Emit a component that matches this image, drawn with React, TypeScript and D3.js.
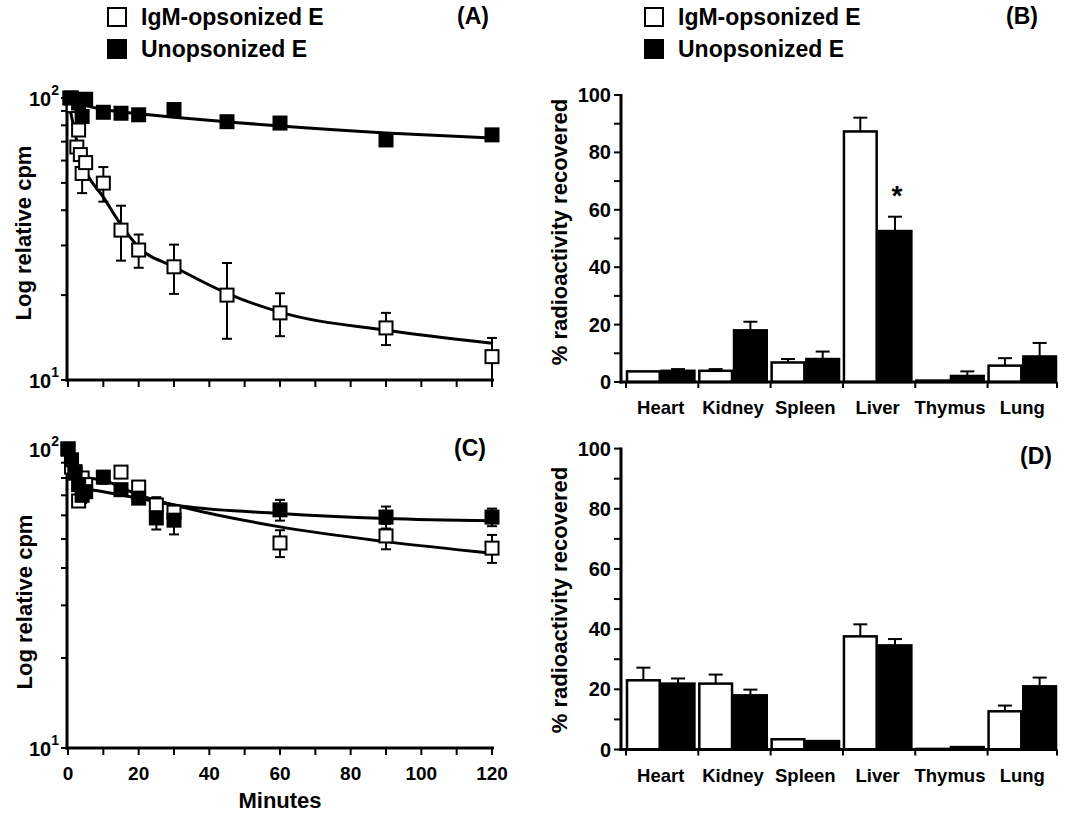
import React, { useEffect, useRef } from 'react';
import * as d3 from 'd3';

const FONT = '"Liberation Sans", Arial, Helvetica, sans-serif';

// shared ticks / categories
const minuteTicks = [0, 10, 20, 30, 40, 50, 60, 70, 80, 90, 100, 110, 120];
const minuteLabels = [0, 20, 40, 60, 80, 100, 120];
const logTicks = [10, 20, 30, 40, 50, 60, 70, 80, 90, 100];
const organs = ["Heart", "Kidney", "Spleen", "Liver", "Thymus", "Lung"];
const pctTicks = [0, 10, 20, 30, 40, 50, 60, 70, 80, 90, 100];
const pctLabels = [0, 20, 40, 60, 80, 100];
const legendLabels = ["IgM-opsonized E", "Unopsonized E"];

// panel A: [minutes, relative cpm, error]
const aIgmPoints = [
    [0.5, 100, 0], [1.5, 94, 0], [3, 77, 0], [2.5, 67, 0], [3.5, 63, 0], [4, 54, 8], [5, 59, 0],
    [10, 49.9, 7], [15, 34, 7.5], [20, 28.9, 3.9], [30, 25.2, 5], [45, 20, 6],
    [60, 17.3, 3], [90, 15.3, 2], [120, 12.1, 2]
];
const aUnopPoints = [
    [1, 100, 0], [3, 96, 0], [4, 86, 3], [5, 99, 0], [10, 89, 0], [15, 88.3, 0], [20, 87.2, 0],
    [30, 91, 0], [45, 82.4, 3], [60, 81.5, 0], [90, 71, 0], [120, 74, 0]
];
const aIgmFit = [
    [0, 100], [1, 86], [2, 75], [3, 66], [4, 59], [5, 55], [10, 44.5], [15, 35.5],
    [20, 29.6], [30, 25.2], [45, 20.3], [60, 17.4], [90, 15], [120, 13.5]
];
const aUnopFit = [
    [0, 98], [5, 94], [10, 91], [20, 88], [30, 85.5], [45, 82.4], [60, 79.5], [90, 75.1], [120, 72.1]
];

// panel C
const cIgmPoints = [
    [0, 100, 0], [1, 87, 0], [2, 83, 0], [3, 67, 3], [4, 80, 0], [5, 76, 0], [15, 83.7, 0],
    [20, 74.6, 0], [25, 65, 4], [30, 61.5, 0], [60, 48.5, 5], [90, 51.2, 5], [120, 46.6, 5]
];
const cUnopPoints = [
    [0, 100, 0], [1, 92, 0], [2, 84, 0], [3, 76, 0], [4, 70, 4], [5, 72, 0], [10, 80.5, 4],
    [15, 73.1, 0], [20, 68.5, 0], [25, 58.8, 5], [30, 57.8, 6], [60, 62.6, 5], [90, 59.2, 5], [120, 59.2, 4]
];
const cIgmFit = [
    [0, 100], [1, 92], [2, 87], [3, 84], [5, 80.5], [10, 78.6], [20, 70.2], [30, 65],
    [60, 54.9], [90, 49], [120, 44.8]
];
const cUnopFit = [
    [0, 100], [1, 88], [2, 81], [3, 77], [5, 74], [10, 72], [20, 68.4], [30, 65],
    [60, 60.9], [90, 58.6], [120, 57.6]
];

// panel B (% radioactivity)
const bIgm = [3.7, 3.9, 6.8, 87.3, 0.5, 5.7];
const bIgmErr = [0, 0.6, 1.2, 4.8, 0, 2.6];
const bUnop = [3.9, 18.0, 8.0, 52.6, 2.1, 8.9];
const bUnopErr = [0.6, 3.0, 2.6, 5.0, 1.6, 4.7];

// panel D
const dIgm = [23.0, 21.9, 3.4, 37.6, 0.2, 12.7];
const dIgmErr = [4.2, 3.0, 0, 4.0, 0, 1.9];
const dUnop = [21.9, 18.0, 2.8, 34.6, 0.8, 21.0];
const dUnopErr = [1.7, 1.9, 0, 2.1, 0, 2.9];


const drawLegend = (svg, left) => {
    legendLabels.forEach((label, i) => {
        const cy = 17 + i * 32;
        svg.append("rect")
            .attr("x", left).attr("y", cy - 9)
            .attr("width", 18).attr("height", 18)
            .attr("fill", i === 0 ? "#fff" : "#000")
            .attr("stroke", "#000").attr("stroke-width", 2);
        svg.append("text")
            .attr("x", left + 33).attr("y", cy + 8)
            .style("font-size", 23)
            .text(label);
    });
};

const drawTimePanel = (svg, x, y, igm, unop, igmFit, unopFit, showLabels) => {
    const x0 = x(0);
    const g = svg.append("g");

    const line = d3.line()
        .x(d => x(d[0]))
        .y(d => y(d[1]))
        .curve(d3.curveMonotoneX);

    // y axis
    g.append("line")
        .attr("x1", x0 - 1).attr("x2", x0 - 1)
        .attr("y1", y(100) - 1).attr("y2", y(10) + 1.5)
        .attr("stroke", "#000").attr("stroke-width", 3);
    g.selectAll(".ytick").data(logTicks).join("line")
        .attr("x1", x0 - 7).attr("x2", x0)
        .attr("y1", d => y(d)).attr("y2", d => y(d))
        .attr("stroke", "#000").attr("stroke-width", 2);
    [[100, "2"], [10, "1"]].forEach(([v, sup]) => {
        const t = g.append("text")
            .attr("x", x0 - 9).attr("y", y(v) + 8)
            .attr("text-anchor", "end")
            .style("font-size", 20);
        t.append("tspan").text("10");
        t.append("tspan").attr("dy", -11).style("font-size", 14).text(sup);
    });

    // x axis
    g.append("line")
        .attr("x1", x0 - 2.5).attr("x2", x(120) + 2)
        .attr("y1", y(10)).attr("y2", y(10))
        .attr("stroke", "#000").attr("stroke-width", 3);
    g.selectAll(".xtick").data(minuteTicks).join("line")
        .attr("x1", d => x(d)).attr("x2", d => x(d))
        .attr("y1", y(10)).attr("y2", y(10) + 7)
        .attr("stroke", "#000").attr("stroke-width", 2);
    if (showLabels) {
        g.selectAll(".xlab").data(minuteLabels).join("text")
            .attr("x", d => x(d)).attr("y", y(10) + 32)
            .attr("text-anchor", "middle")
            .style("font-size", 19)
            .text(d => d);
    }

    // fitted curves
    [igmFit, unopFit].forEach(fit => {
        g.append("path")
            .attr("d", line(fit))
            .attr("fill", "none")
            .attr("stroke", "#000").attr("stroke-width", 3);
    });

    // error bars
    [...igm, ...unop].filter(d => d[2] > 0).forEach(([t, v, e]) => {
        const eb = g.append("g").attr("stroke", "#000").attr("stroke-width", 2);
        eb.append("line").attr("x1", x(t)).attr("x2", x(t)).attr("y1", y(v + e)).attr("y2", y(Math.max(10, v - e)));
        eb.append("line").attr("x1", x(t) - 5).attr("x2", x(t) + 5).attr("y1", y(v + e)).attr("y2", y(v + e));
        if (v - e >= 10.3) {
            eb.append("line").attr("x1", x(t) - 5).attr("x2", x(t) + 5).attr("y1", y(v - e)).attr("y2", y(v - e));
        }
    });

    // markers
    [[igm, "#fff"], [unop, "#000"]].forEach(([pts, fill]) => {
        g.append("g").selectAll("rect").data(pts).join("rect")
            .attr("x", d => x(d[0]) - 6.5).attr("y", d => y(d[1]) - 6.5)
            .attr("width", 13).attr("height", 13)
            .attr("fill", fill)
            .attr("stroke", "#000").attr("stroke-width", 2);
    });
};

const drawBarPanel = (svg, y, igm, igmErr, unop, unopErr) => {
    const g = svg.append("g");
    const axisX = 621;
    const band = d3.scaleBand().domain(organs).range([626, 1057]).paddingInner(0.04);
    const inner = d3.scaleBand().domain(["igm", "unop"]).range([0, band.bandwidth()]);

    // bars
    organs.forEach((organ, i) => {
        [["igm", igm[i], igmErr[i], "#fff"], ["unop", unop[i], unopErr[i], "#000"]].forEach(([key, v, e, fill]) => {
            const bx = band(organ) + inner(key);
            const cx = bx + inner.bandwidth() / 2;
            if (e > 0) {
                g.append("line").attr("x1", cx).attr("x2", cx).attr("y1", y(v)).attr("y2", y(v + e))
                    .attr("stroke", "#000").attr("stroke-width", 2);
                g.append("line").attr("x1", cx - 7).attr("x2", cx + 7).attr("y1", y(v + e)).attr("y2", y(v + e))
                    .attr("stroke", "#000").attr("stroke-width", 2);
            }
            g.append("rect")
                .attr("x", bx + 1).attr("y", y(v))
                .attr("width", inner.bandwidth() - 2).attr("height", y(0) - y(v))
                .attr("fill", fill)
                .attr("stroke", "#000").attr("stroke-width", 2.5);
        });
    });

    // y axis
    g.append("line")
        .attr("x1", axisX).attr("x2", axisX)
        .attr("y1", y(100) - 1).attr("y2", y(0) + 1.5)
        .attr("stroke", "#000").attr("stroke-width", 3);
    g.selectAll(".ytick").data(pctTicks).join("line")
        .attr("x1", axisX - 7).attr("x2", axisX)
        .attr("y1", d => y(d)).attr("y2", d => y(d))
        .attr("stroke", "#000").attr("stroke-width", 2);
    g.selectAll(".ylab").data(pctLabels).join("text")
        .attr("x", axisX - 10).attr("y", d => y(d) + 7)
        .attr("text-anchor", "end")
        .style("font-size", 20)
        .text(d => d);

    // x axis
    g.append("line")
        .attr("x1", axisX - 1.5).attr("x2", 1057)
        .attr("y1", y(0)).attr("y2", y(0))
        .attr("stroke", "#000").attr("stroke-width", 3);
    const bounds = organs.map(o => band(o)).concat([band("Lung") + band.bandwidth()]);
    g.selectAll(".xtick").data(bounds).join("line")
        .attr("x1", d => d).attr("x2", d => d)
        .attr("y1", y(0)).attr("y2", y(0) + 6)
        .attr("stroke", "#000").attr("stroke-width", 2);
    g.selectAll(".xlab").data(organs).join("text")
        .attr("x", d => band(d) + band.bandwidth() / 2).attr("y", y(0) + 32)
        .attr("text-anchor", "middle")
        .style("font-size", 18.5)
        .text(d => d);
};

const App = () => {
    const wrapper = useRef(null);

    useEffect(() => {
        const svg = d3.select(wrapper.current);
        svg.selectAll("*").remove();
        svg.attr("font-family", FONT).attr("font-weight", "bold");

        svg.append("rect").attr("width", 1067).attr("height", 814).attr("fill", "#fff");

        const x = d3.scaleLinear().domain([0, 120]).range([68, 492]);
        const yA = d3.scaleLog().domain([10, 100]).range([380, 98]);
        const yC = d3.scaleLog().domain([10, 100]).range([748, 449]);
        const yB = d3.scaleLinear().domain([0, 100]).range([382, 95]);
        const yD = d3.scaleLinear().domain([0, 100]).range([749.5, 448.6]);

        drawLegend(svg, 108);
        drawLegend(svg, 645);

        drawTimePanel(svg, x, yA, aIgmPoints, aUnopPoints, aIgmFit, aUnopFit, false);
        drawTimePanel(svg, x, yC, cIgmPoints, cUnopPoints, cIgmFit, cUnopFit, true);
        drawBarPanel(svg, yB, bIgm, bIgmErr, bUnop, bUnopErr);
        drawBarPanel(svg, yD, dIgm, dIgmErr, dUnop, dUnopErr);

        // asterisk over liver, panel B
        svg.append("text")
            .attr("x", 897).attr("y", 205)
            .attr("text-anchor", "middle")
            .style("font-size", 28)
            .text("*");

        // axis titles
        const titles = [
            [23, 233, "Log relative cpm"],
            [24, 602, "Log relative cpm"],
            [559, 232, "% radioactivity recovered"],
            [559, 600, "% radioactivity recovered"]
        ];
        titles.forEach(([tx, ty, label]) => {
            svg.append("text")
                .attr("transform", `translate(${tx + 8},${ty}) rotate(-90)`)
                .attr("text-anchor", "middle")
                .style("font-size", 22)
                .text(label);
        });
        svg.append("text")
            .attr("x", 280).attr("y", 808)
            .attr("text-anchor", "middle")
            .style("font-size", 22)
            .text("Minutes");

        // panel letters
        [["(A)", 473, 24], ["(B)", 1022, 24], ["(C)", 470, 456], ["(D)", 1036, 464]].forEach(([l, lx, ly]) => {
            svg.append("text")
                .attr("x", lx).attr("y", ly)
                .attr("text-anchor", "middle")
                .style("font-size", 23)
                .text(l);
        });
    }, []);

    return (
        <svg ref={wrapper} width={1067} height={814}
            style={{ position: "absolute", left: 0, top: 0, display: "block" }} />
    );
};

export default App;
